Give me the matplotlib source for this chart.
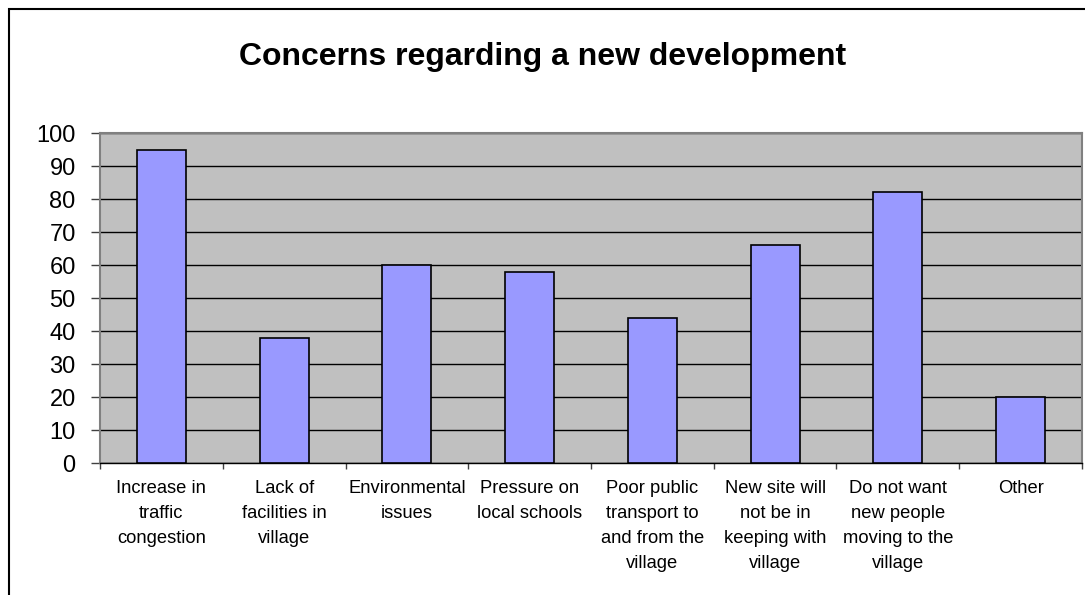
import matplotlib.pyplot as plt
from matplotlib.patches import Rectangle
import numpy as np

plt.rcParams['font.family'] = ['Liberation Sans', 'DejaVu Sans']

# survey answers
categories = [
    "Increase in\ntraffic\ncongestion",
    "Lack of\nfacilities in\nvillage",
    "Environmental\nissues",
    "Pressure on\nlocal schools",
    "Poor public\ntransport to\nand from the\nvillage",
    "New site will\nnot be in\nkeeping with\nvillage",
    "Do not want\nnew people\nmoving to the\nvillage",
    "Other",
]
counts = [95, 38, 60, 58, 44, 66, 82, 20]
yticks = list(range(0, 101, 10))

fig = plt.figure(figsize=(10.85, 5.95), dpi=100)
ax = fig.add_axes([0.0922, 0.2218, 0.905, 0.5546])

x = np.arange(len(categories))
ax.bar(x, counts, width=0.4, color='#9999FF', edgecolor='black', linewidth=1.2, zorder=3)

ax.set_facecolor('#C0C0C0')
ax.set_xlim(-0.5, len(categories) - 0.5)
ax.set_ylim(0, 100)
ax.set_yticks(yticks)
ax.tick_params(axis='y', labelsize=17, length=6.5, width=1, color='#404040', pad=11)
ax.yaxis.grid(True, color='black', linewidth=1, zorder=1)

# category boundaries get the tick marks, labels sit in the middle
ax.set_xticks(np.arange(len(categories) + 1) - 0.5)
ax.set_xticklabels([])
ax.tick_params(axis='x', which='major', length=4, width=1, color='#404040')
ax.set_xticks(x, minor=True)
ax.set_xticklabels(categories, minor=True, fontsize=13.2, linespacing=1.62, va='top')
ax.tick_params(axis='x', which='minor', length=0, pad=12)

for s in ax.spines.values():
    s.set_color('#808080')
    s.set_linewidth(1.5)
ax.spines['bottom'].set_color('black')
ax.spines['bottom'].set_linewidth(1)

fig.text(0.5, 1 - 65 / 595, "Concerns regarding a new development",
         fontsize=23, fontweight='bold', ha='center', va='baseline')

# chart area frame, cut off on the right and bottom
fig.patches.append(Rectangle((9 / 1085, -0.2), 1.2, 1.2 - 9 / 595,
                             transform=fig.transFigure, fill=False,
                             edgecolor='black', linewidth=1.5))

fig.savefig('out.png', dpi=100)
